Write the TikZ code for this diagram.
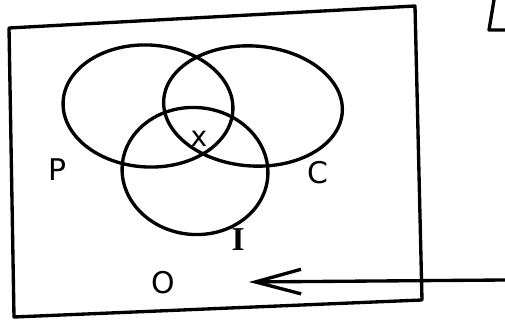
\documentclass[tikz,border=0pt]{standalone}
\usepackage{fontspec}
\setsansfont{DejaVu Sans}
\setmainfont{Liberation Serif}
\usetikzlibrary{shapes.geometric,arrows.meta}
\begin{document}
\begin{tikzpicture}[x=0.02cm,y=-0.02cm,
  ink/.style={line width=1.9pt,line cap=round,line join=round,black},
  setring/.style={ink,draw,ellipse,inner sep=0pt},
  lbl/.style={font=\sffamily\fontsize{17}{19}\selectfont,inner sep=0pt}]
\useasboundingbox (0,0) rectangle (505,320);
% frame
\coordinate (tl) at (9,28);
\coordinate (tr) at (415,6);
\coordinate (br) at (422,300);
\coordinate (bl) at (14,317);
\draw[ink] (tl) -- (tr) -- (br) -- (bl) -- cycle;
% sets
\node[setring,minimum width=3.4cm,minimum height=2.44cm,rotate=-3] (P) at (148,106) {};
\node[setring,minimum width=3.58cm,minimum height=2.4cm,rotate=-4] (C) at (253,106) {};
\node[setring,minimum width=2.92cm,minimum height=2.54cm,rotate=-5] (I) at (195,171) {};
% labels
\node[lbl] (lp) at (58,170) {P};
\node[lbl] (lc) at (318,173) {C};
\node[lbl,font=\rmfamily\bfseries\fontsize{19}{21}\selectfont] (li) at (238,240) {I};
\node[lbl] (lo) at (163,283) {O};
\node[lbl,font=\sffamily\fontsize{16}{18}\selectfont] (lx) at (199,139) {x};
% arrow
\coordinate (astart) at (506,280);
\coordinate (aend) at (249,282);
\draw[ink,-{Straight Barb[length=26pt,width=14pt,line width=1.9pt]}] (astart) -- (aend);
% partial letter at top right
\draw[ink] (494,0) -- (489,30) -- (506,30);
\end{tikzpicture}
\end{document}
